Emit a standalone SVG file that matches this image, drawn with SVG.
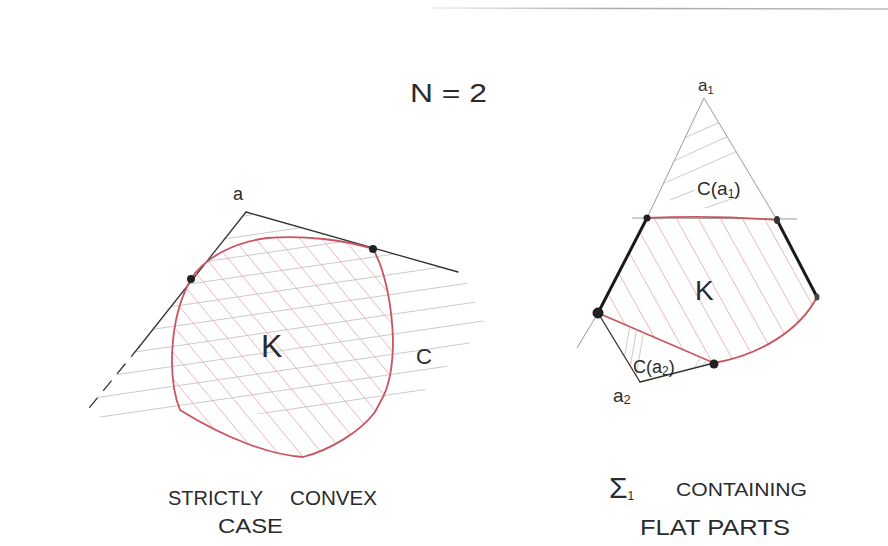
<svg xmlns="http://www.w3.org/2000/svg" width="888" height="546" viewBox="0 0 888 546">
<defs>
<style>
.txt{font-family:"Liberation Sans","DejaVu Sans",sans-serif;fill:#2b2b2b}
.edge{stroke:#333;stroke-width:1.3;fill:none;stroke-linecap:round}
.thin{stroke:#9a9a9a;stroke-width:1;fill:none}
.thick{stroke:#1a1a1a;stroke-width:3;fill:none;stroke-linecap:round}
.red{stroke:#c85560;stroke-width:1.8;fill:none;stroke-linejoin:round}
.rh{stroke:#eab0b7;stroke-width:0.9}
.gh{stroke:#c4c4c4;stroke-width:0.9}
.dot{fill:#222}
</style>
<linearGradient id="topline" x1="0" x2="1" y1="0" y2="0">
<stop offset="0" stop-color="#eee"/>
<stop offset="0.4" stop-color="#aaa"/>
<stop offset="1" stop-color="#bbb"/>
</linearGradient>
<clipPath id="coneClip"><polygon points="246,212 462,273 486,326 420,395 300,412 112,420 85,413"/></clipPath>
<clipPath id="kLeftClip"><path d="M191,279 C205,257 235,242 267,238 C305,235 345,240 373,249 C385,270 392,305 393,340 C393,365 389,385 383,397 L375,412 C360,432 330,450 303,457 C270,455 225,438 180,410 C168,380 168,320 191,279 Z"/></clipPath>
<clipPath id="kRightClip"><path d="M647,218 Q712,215 777,220 L817,297 C800,330 760,355 714,363 L598,313 Z"/></clipPath>
<clipPath id="triClip"><polygon points="704,98 647,218 777,220"/></clipPath>
<clipPath id="smallClip"><polygon points="598,313 640,382 714,363"/></clipPath>
</defs>
<rect width="888" height="546" fill="#fff"/>
<line x1="432" y1="8" x2="888" y2="9" stroke="url(#topline)" stroke-width="1.5"/>

<text class="txt" x="410" y="102" font-size="26" textLength="77" lengthAdjust="spacingAndGlyphs">N = 2</text>

<g id="cone-left">
<g clip-path="url(#coneClip)">
<line class="gh" x1="80" y1="240" x2="490" y2="180"/>
<line class="gh" x1="80" y1="260" x2="490" y2="200"/>
<line class="gh" x1="80" y1="280" x2="490" y2="220"/>
<line class="gh" x1="80" y1="300" x2="490" y2="240"/>
<line class="gh" x1="80" y1="320" x2="490" y2="260"/>
<line class="gh" x1="80" y1="340" x2="490" y2="280"/>
<line class="gh" x1="80" y1="360" x2="490" y2="300"/>
<line class="gh" x1="80" y1="380" x2="490" y2="320"/>
<line class="gh" x1="80" y1="400" x2="490" y2="340"/>
<line class="gh" x1="80" y1="420" x2="490" y2="360"/>
<line class="gh" x1="80" y1="440" x2="490" y2="380"/>
</g>
<line class="edge" x1="246" y1="212" x2="458" y2="272"/>
<line class="edge" x1="246" y1="212" x2="139" y2="347"/>
<line class="edge" x1="139" y1="347" x2="85" y2="413" stroke-dasharray="12,10" stroke="#666"/>
<text class="txt" x="233" y="200" font-size="18">a</text>
<text class="txt" x="416" y="364" font-size="22">C</text>
</g>

<g id="K-left">
<g clip-path="url(#kLeftClip)">
<line class="rh" x1="-40" y1="200" x2="190" y2="480"/>
<line class="rh" x1="-18" y1="200" x2="212" y2="480"/>
<line class="rh" x1="4" y1="200" x2="234" y2="480"/>
<line class="rh" x1="26" y1="200" x2="256" y2="480"/>
<line class="rh" x1="48" y1="200" x2="278" y2="480"/>
<line class="rh" x1="70" y1="200" x2="300" y2="480"/>
<line class="rh" x1="92" y1="200" x2="322" y2="480"/>
<line class="rh" x1="114" y1="200" x2="344" y2="480"/>
<line class="rh" x1="136" y1="200" x2="366" y2="480"/>
<line class="rh" x1="158" y1="200" x2="388" y2="480"/>
<line class="rh" x1="180" y1="200" x2="410" y2="480"/>
<line class="rh" x1="202" y1="200" x2="432" y2="480"/>
<line class="rh" x1="224" y1="200" x2="454" y2="480"/>
<line class="rh" x1="246" y1="200" x2="476" y2="480"/>
<line class="rh" x1="268" y1="200" x2="498" y2="480"/>
<line class="rh" x1="290" y1="200" x2="520" y2="480"/>
<line class="rh" x1="312" y1="200" x2="542" y2="480"/>
<line class="rh" x1="334" y1="200" x2="564" y2="480"/>
<line class="rh" x1="356" y1="200" x2="586" y2="480"/>
</g>
<path class="red" d="M191,279 C205,257 235,242 267,238 C305,235 345,240 373,249 C385,270 392,305 393,340 C393,365 389,385 383,397 L375,412 C360,432 330,450 303,457 C270,455 225,438 180,410 C168,380 168,320 191,279 Z"/>
<circle class="dot" cx="191" cy="279" r="4"/>
<circle class="dot" cx="373" cy="249" r="4"/>
<text class="txt" x="261" y="357" font-size="32">K</text>
</g>

<g id="cone-a1">
<g clip-path="url(#triClip)">
<line class="gh" x1="680" y1="140" x2="720" y2="122"/>
<line class="gh" x1="665" y1="165" x2="735" y2="133"/>
<line class="gh" x1="660" y1="185" x2="740" y2="150"/>
<line class="gh" x1="670" y1="200" x2="695" y2="190"/>
<line class="gh" x1="705" y1="208" x2="740" y2="196"/>
</g>
<line class="thin" x1="704" y1="98" x2="647" y2="218"/>
<line class="thin" x1="704" y1="98" x2="777" y2="220"/>
<line class="thin" x1="632" y1="218" x2="797" y2="219"/>
<text class="txt" x="698" y="91" font-size="17">a<tspan font-size="11" dy="3">1</tspan></text>
<text class="txt" x="697" y="195" font-size="19">C(a<tspan font-size="12" dy="3">1</tspan><tspan dy="-3">)</tspan></text>
</g>

<g id="K-right">
<g clip-path="url(#kRightClip)">
<line class="rh" x1="556" y1="200" x2="656" y2="380"/>
<line class="rh" x1="578" y1="200" x2="678" y2="380"/>
<line class="rh" x1="600" y1="200" x2="700" y2="380"/>
<line class="rh" x1="622" y1="200" x2="722" y2="380"/>
<line class="rh" x1="644" y1="200" x2="744" y2="380"/>
<line class="rh" x1="666" y1="200" x2="766" y2="380"/>
<line class="rh" x1="688" y1="200" x2="788" y2="380"/>
<line class="rh" x1="710" y1="200" x2="810" y2="380"/>
<line class="rh" x1="732" y1="200" x2="832" y2="380"/>
<line class="rh" x1="754" y1="200" x2="854" y2="380"/>
</g>
<path class="red" d="M647,218 Q712,215 777,220 L817,297 C800,330 760,355 714,363 L598,313 Z"/>
<line class="thin" x1="598" y1="313" x2="577" y2="348"/>
<line class="thick" x1="647" y1="218" x2="598" y2="313"/>
<line class="thick" x1="777" y1="220" x2="817" y2="297"/>
<text class="txt" x="695" y="300" font-size="28">K</text>
</g>

<g id="cone-a2">
<g clip-path="url(#smallClip)">
<line class="gh" x1="630" y1="325" x2="622" y2="372"/>
<line class="gh" x1="637" y1="327" x2="629" y2="374"/>
<line class="gh" x1="644" y1="330" x2="636" y2="376"/>
<line class="gh" x1="692" y1="372" x2="704" y2="352"/>
<line class="gh" x1="699" y1="372" x2="711" y2="352"/>
</g>
<line class="edge" x1="598" y1="313" x2="640" y2="382" stroke="#444"/>
<line class="edge" x1="640" y1="382" x2="714" y2="363" stroke-width="1.8"/>
<text class="txt" x="633" y="373" font-size="18">C(a<tspan font-size="12" dy="2">2</tspan><tspan dy="-2">)</tspan></text>
<text class="txt" x="613" y="402" font-size="19">a<tspan font-size="13" dy="2">2</tspan></text>
</g>

<g id="points-right">
<circle class="dot" cx="647" cy="218" r="3.5"/>
<ellipse cx="777" cy="220" rx="3" ry="4" fill="#333"/>
<circle cx="598" cy="313" r="5" fill="#222" stroke="#111" stroke-width="1"/>
<ellipse cx="817" cy="297" rx="2.5" ry="3.5" fill="#444"/>
<circle class="dot" cx="714" cy="364" r="4.5"/>
</g>

<g id="captions">
<text class="txt" x="168" y="505" font-size="20" textLength="95" lengthAdjust="spacingAndGlyphs">STRICTLY</text>
<text class="txt" x="290" y="505" font-size="20" textLength="87" lengthAdjust="spacingAndGlyphs">CONVEX</text>
<text class="txt" x="218" y="533" font-size="20" textLength="65" lengthAdjust="spacingAndGlyphs">CASE</text>
<text class="txt" x="609" y="498" font-size="30">Σ<tspan font-size="12" dy="2">1</tspan></text>
<text class="txt" x="676" y="496" font-size="19" textLength="131" lengthAdjust="spacingAndGlyphs">CONTAINING</text>
<text class="txt" x="640" y="535" font-size="22" textLength="150" lengthAdjust="spacingAndGlyphs">FLAT PARTS</text>
</g>
</svg>
